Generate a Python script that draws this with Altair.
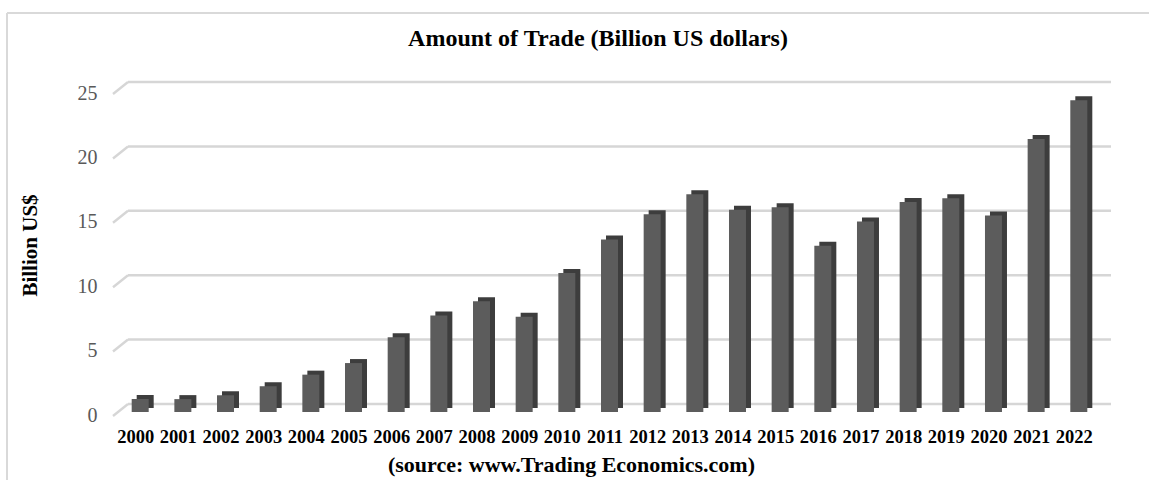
import altair as alt
import pandas as pd

years = [str(y) for y in range(2000, 2023)]
values = [1.0, 1.0, 1.3, 2.0, 2.9, 3.8, 5.8, 7.5, 8.6, 7.4, 10.8, 13.4, 15.35,
          16.9, 15.7, 15.9, 12.9, 14.8, 16.3, 16.6, 15.25, 21.2, 24.2]
tick_values = [0, 5, 10, 15, 20, 25]

title_text = "Amount of Trade (Billion US dollars)"
y_title = "Billion US$"
x_title = "(source: www.Trading Economics.com)"

bars_df = pd.DataFrame({"year": years, "value": values})
ticks_df = pd.DataFrame({"value": tick_values})
one = pd.DataFrame({"a": [0]})

SERIF = "Liberation Serif"
W, H = 998, 322

x_enc = alt.X("year:N", sort=years,
              scale=alt.Scale(paddingInner=0, paddingOuter=0.196),
              axis=alt.Axis(title=x_title, labelAngle=0, labelFont=SERIF,
                            labelFontSize=18.5, labelFontWeight="bold",
                            labelColor="black", labelPadding=15, labelOffset=-7,
                            ticks=False, domain=False, grid=False,
                            titleFont=SERIF, titleFontSize=22, titleFontWeight="bold",
                            titleColor="black", titlePadding=9, titleX=458))
y_scale = alt.Scale(domain=[0, 25], nice=False, zero=True)
y_axis = alt.Axis(title=y_title, values=tick_values, labelFont=SERIF,
                  labelFontSize=20, labelColor="#595959",
                  labelPadding=16, labelOffset=3, ticks=False,
                  domain=False, grid=False, titleFont=SERIF,
                  titleFontSize=21, titleFontWeight="bold",
                  titleColor="black", titlePadding=37, titleY=155)
y_enc = alt.Y("value:Q", scale=y_scale, axis=y_axis)

grid_back = alt.Chart(ticks_df).mark_rule(color="#d6d6d6", strokeWidth=2.5, yOffset=-8).encode(
    x=alt.value(15), x2=alt.value(998), y=y_enc)
grid_diag = alt.Chart(ticks_df).mark_rule(color="#d6d6d6", strokeWidth=2.5,
                                          yOffset=4, y2Offset=-8).encode(
    x=alt.value(0), x2=alt.value(15), y=y_enc, y2=alt.Y2("value:Q"))

bar_back = alt.Chart(bars_df).mark_bar(width=17, xOffset=2.5, yOffset=-4, y2Offset=-4,
                                       color="#3d3d3d").encode(x=x_enc, y=y_enc)
bar_front = alt.Chart(bars_df).mark_bar(width=17, xOffset=-2.5, color="#5c5c5c").encode(
    x=x_enc, y=y_enc)

border_top = alt.Chart(one).mark_rule(color="#d9d9d9", strokeWidth=2).encode(
    x=alt.value(-106), x2=alt.value(1060), y=alt.value(-77))
border_left = alt.Chart(one).mark_rule(color="#d9d9d9", strokeWidth=2).encode(
    x=alt.value(-106), y=alt.value(-77), y2=alt.value(420))

title_mark = alt.Chart(one).mark_text(text=title_text, font=SERIF, fontSize=24,
                                      fontWeight="bold", color="black",
                                      align="center", baseline="middle").encode(
    x=alt.value(485), y=alt.value(-51))

chart = alt.layer(border_top, border_left, grid_back, grid_diag, bar_back, bar_front,
                  title_mark).properties(
    width=W, height=H,
    autosize=alt.AutoSizeParams(type="none"),
    padding={"left": 113, "top": 90, "right": 38, "bottom": 68},
    background="white",
).configure_view(stroke=None)

chart.save("out.html", embed_options={"renderer": "svg", "actions": False})
